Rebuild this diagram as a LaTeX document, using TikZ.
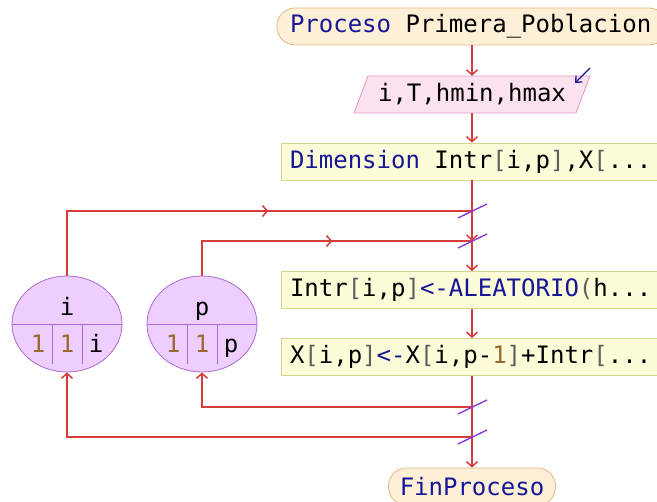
\documentclass[tikz,border=0pt]{standalone}
\usepackage{fontspec}
\newfontfamily\codefont{DejaVu Sans Mono}
\usetikzlibrary{arrows.meta,decorations.markings,shapes.geometric}

\definecolor{flowred}{RGB}{214,60,60}
\definecolor{kwblue}{RGB}{22,22,150}
\definecolor{numbrown}{RGB}{155,105,45}
\definecolor{brkgrey}{RGB}{95,95,95}
\definecolor{procfill}{RGB}{253,240,214}
\definecolor{procline}{RGB}{222,185,130}
\definecolor{iofill}{RGB}{252,226,240}
\definecolor{ioline}{RGB}{228,150,188}
\definecolor{actfill}{RGB}{252,252,216}
\definecolor{actline}{RGB}{212,212,145}
\definecolor{loopfill}{RGB}{238,205,255}
\definecolor{loopline}{RGB}{170,105,212}
\definecolor{slashcol}{RGB}{135,60,215}

\newcommand\kw[1]{\textcolor{kwblue}{#1}}
\newcommand\brk[1]{\textcolor{brkgrey}{#1}}
\newcommand\nm[1]{\textcolor{numbrown}{#1}}
% one full monospaced cell of blank space
\newcommand\csp{\hspace*{0.6021em}}

\tikzset{
  code/.style={font=\codefont\fontsize{24}{28}\selectfont},
  tip/.tip={Straight Barb[length=5pt,width=11pt]},
  flow/.style={draw=flowred,line width=1.5pt},
  procbox/.style={code,draw=procline,fill=procfill,line width=0.8pt,rounded corners=18pt,
    minimum height=37pt,inner ysep=0pt},
  actbox/.style={code,draw=actline,fill=actfill,line width=0.8pt,
    minimum height=37pt,minimum width=382pt,text width=364pt,inner xsep=9pt,inner ysep=0pt,align=left},
  looptext/.style={code,anchor=base,inner sep=0pt},
  loopell/.style={ellipse,draw=loopline,fill=loopfill,line width=0.8pt,
    minimum width=110pt,minimum height=96pt,inner sep=0pt},
  divider/.style={draw=loopline,line width=0.8pt},
  slash/.style={draw=slashcol,line width=1.4pt},
  midarrow/.style={postaction={decorate},decoration={markings,
    mark=at position #1pt with {\arrow[flowred,line width=1.5pt]{tip}}}}
}

\begin{document}
\begin{tikzpicture}[x=1pt,y=-1pt]
\useasboundingbox (0,0) rectangle (657,502);
\clip (0,0) rectangle (657,502);

% start
\node[procbox,minimum width=390pt,text width=364pt,inner xsep=13pt,align=left] (proc) at (472,26.5)
  {\kw{Proceso}\csp Primera\_Poblacion};

% read
\filldraw[draw=ioline,fill=iofill,line width=0.8pt]
  (368,76) -- (590,76) -- (576,113) -- (354,113) -- cycle;
\node[code,minimum height=37pt,inner ysep=0pt] (inp) at (472,94.5) {i,T,hmin,hmax};
\coordinate (rdA) at (590,68);
\coordinate (rdB) at (575,83);
\draw[kwblue,line width=1.3pt,-{Straight Barb[length=5pt,width=9pt]}] (rdA) -- (rdB);

% actions
\node[actbox] (dim) at (472,161.5)
  {\kw{Dimension}\csp Intr\brk{[}i,p\brk{]},X\brk{[}...};
\node[actbox] (intr) at (472,290)
  {Intr\brk{[}i,p\brk{]}\kw{<-ALEATORIO}\brk{(}h...};
\node[actbox] (xbx) at (472,357)
  {X\brk{[}i,p\brk{]}\kw{<-}X\brk{[}i,p-\nm{1}\brk{]}+Intr\brk{[}...};

% end
\node[procbox,minimum width=167pt,inner xsep=0pt] (fin) at (472,486.5) {\kw{FinProceso}};

% loop counters
\node[loopell] (iel) at (67,324) {};
\node[loopell] (pel) at (202,324) {};
\draw[divider] (iel.west) -- (iel.east);
\draw[divider] (pel.west) -- (pel.east);
\foreach \xx in {52,82} \draw[divider] (\xx,324) -- (\xx,364);
\foreach \xx in {187,217} \draw[divider] (\xx,324) -- (\xx,364);
\node[looptext] (ivar) at (67,316) {i};
\node[looptext] (ia) at (38,353) {\nm{1}};
\node[looptext] (ib) at (67,353) {\nm{1}};
\node[looptext] (ic) at (96,353) {i};
\node[looptext] (pvar) at (202,316) {p};
\node[looptext] (pa) at (173,353) {\nm{1}};
\node[looptext] (pb) at (202,353) {\nm{1}};
\node[looptext] (pc) at (231,353) {p};

% junctions on the main line
\coordinate (j1) at (472,211);
\coordinate (j2) at (472,241);
\coordinate (j3) at (472,407);
\coordinate (j4) at (472,437);

% main flow
\draw[flow,-tip] (proc) -- (inp);
\draw[flow,-tip] (inp) -- (dim);
\draw[flow,-tip] (dim.south) -- (j2);
\draw[flow,-tip] (j2) -- (intr.north);
\draw[flow,-tip] (intr) -- (xbx);
\draw[flow,-tip] (xbx) -- (fin);

% loop connectors
\draw[flow,midarrow=266] (iel.north) |- (j1);
\draw[flow,midarrow=165] (pel.north) |- (j2);
\draw[flow,-tip] (j3) -| (pel.south);
\draw[flow,-tip] (j4) -| (iel.south);

% loop marks
\foreach \jj in {j1,j2,j3,j4}
  \draw[slash] ([shift={(-14,7)}]\jj) -- ([shift={(15,-7)}]\jj);
\end{tikzpicture}
\end{document}
